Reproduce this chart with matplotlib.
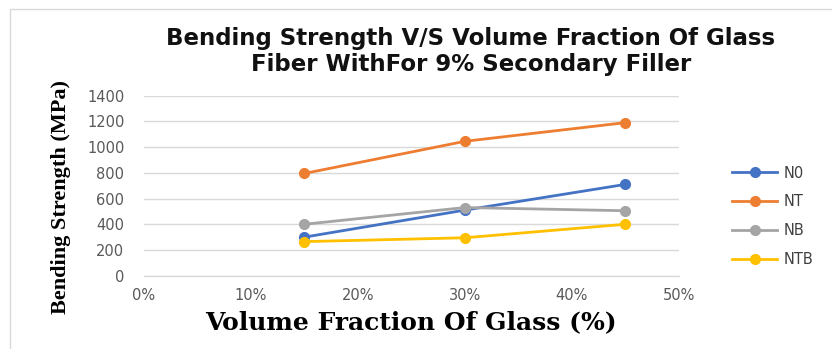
import matplotlib
matplotlib.use("Agg")
import matplotlib.pyplot as plt
from matplotlib.patches import Rectangle
from matplotlib.ticker import FuncFormatter

# Glass fibre volume fraction (%) and bending strength (MPa) per filler series
volume_fraction = [15, 30, 45]
series_names = ["N0", "NT", "NB", "NTB"]
n0 = [300, 510, 710]
nt = [795, 1045, 1190]
nb = [400, 530, 505]
ntb = [265, 295, 400]
colors = ["#4472C4", "#ED7D31", "#A5A5A5", "#FFC000"]

fig = plt.figure(figsize=(8.32, 3.49), dpi=100)
fig.patches.append(Rectangle((10 / 832, -0.1), 1.2, 1.1 - 9 / 349, transform=fig.transFigure,
                             fill=False, edgecolor="#D9D9D9", linewidth=1.0))

ax = fig.add_axes([0.173, 0.210, 0.643, 0.516])
for name, vals, c in zip(series_names, [n0, nt, nb, ntb], colors):
    ax.plot(volume_fraction, vals, color=c, linewidth=2.0, marker="o", markersize=7,
            label=name, zorder=3)

ax.set_xlim(0, 50)
ax.set_ylim(0, 1400)
ax.set_xticks(range(0, 51, 10))
ax.set_yticks(range(0, 1401, 200))
ax.xaxis.set_major_formatter(FuncFormatter(lambda v, p: f"{int(v)}%"))
ax.grid(axis="y", color="#D9D9D9", linewidth=1.0)
ax.set_axisbelow(True)
for s in ["left", "right", "top"]:
    ax.spines[s].set_visible(False)
ax.spines["bottom"].set_color("#D9D9D9")
ax.spines["bottom"].set_linewidth(1.0)
ax.tick_params(axis="y", length=0, labelsize=10.5, labelcolor="#595959", pad=14)
ax.tick_params(axis="x", length=0, labelsize=10.5, labelcolor="#595959", pad=9)

fig.text(0.566, 0.852, "Bending Strength V/S Volume Fraction Of Glass\nFiber WithFor 9% Secondary Filler",
         ha="center", va="center", fontsize=16.5, fontweight="bold", family="DejaVu Sans",
         linespacing=1.2, color="#111111")

fig.text(0.073, 0.436, "Bending Strength (MPa)", rotation=90, ha="center", va="center",
         fontsize=16, fontweight="bold", family="Liberation Serif")
fig.text(0.494, 0.077, "Volume Fraction Of Glass (%)", ha="center", va="center",
         fontsize=18, fontweight="bold", family="DejaVu Serif")

ax.legend(loc="center left", bbox_to_anchor=(1.075, 0.33), frameon=False, fontsize=10.5,
          handlelength=3.1, handletextpad=0.4, labelspacing=0.95, labelcolor="#404040")

fig.savefig("out.png", dpi=100)
